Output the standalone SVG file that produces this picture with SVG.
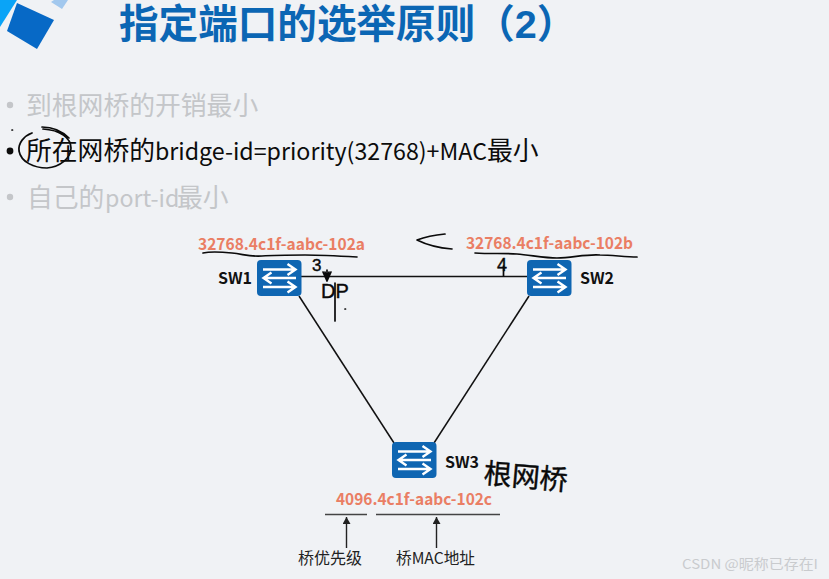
<svg xmlns="http://www.w3.org/2000/svg" width="829" height="579" viewBox="0 0 829 579">
<style>
text{font-family:"Noto Sans CJK SC","Noto Sans",sans-serif}
.title{font-family:"Liberation Sans","Noto Sans CJK SC",sans-serif;font-size:39.6px;font-weight:700;fill:#0b66b4}
.bul{font-size:25.8px}
.lat{font-size:23.2px}
.dim{fill:#c4c6c9}
.on{fill:#0c0c0c}
.addr{font-size:16px;font-weight:700;fill:#ea7e64}
.sw{font-size:16px;font-weight:700;fill:#111}
.cap{font-size:16px;fill:#222}
.link{stroke:#111;stroke-width:1.5;fill:none}
.ink{stroke:#0a0a0a;stroke-width:1.7;fill:none;stroke-linecap:round;stroke-linejoin:round}
.hw{font-family:"Liberation Sans","Noto Sans CJK SC",sans-serif;fill:#0a0a0a;stroke:#0a0a0a;stroke-width:.4}
.rule{stroke:#444;stroke-width:1.5;fill:none}
.ptr{stroke:#222;stroke-width:1.4;fill:none;marker-end:url(#tip)}
.ar{stroke:#fff;stroke-width:2.4;fill:none}
</style>
<defs>
<marker id="tip" markerUnits="userSpaceOnUse" markerWidth="8" markerHeight="8" refX="7" refY="4" orient="auto"><path d="M0 0L7 4L0 8Z" fill="#222"/></marker>
<symbol id="switch" width="45" height="36" viewBox="0 0 45 36" overflow="visible">
<rect width="44.5" height="36" rx="4" fill="#0f66b2"/>
<path class="ar" d="M6 9.5H38M30.5 4L38.5 9.5L30.5 15"/>
<path class="ar" d="M39 18H7M14.5 12.5L6.5 18L14.5 23.5"/>
<path class="ar" d="M6 27H38M30.5 21.5L38.5 27L30.5 32.5"/>
</symbol>
</defs>
<rect width="829" height="579" fill="#f0f2f5"/>
<path d="M0 0H17L0 27Z" fill="#0aa4f7"/>
<path d="M17 3L54 20L37 49L7 31Z" fill="#0769c6"/>
<path d="M51 2L54 0H68L62 9Z" fill="#a2c8ee"/>
<text class="title" x="119" y="37.5">指定端口的选举原则（2）</text>
<circle cx="10" cy="105" r="3.2" fill="#c4c6c9"/>
<text class="bul dim" x="26" y="115">到根网桥的开销最小</text>
<circle cx="10" cy="151" r="3.4" fill="#0c0c0c"/>
<text class="bul on" x="26" y="160">所在网桥的<tspan class="lat" x="155">bridge-id=priority(32768)+MAC</tspan><tspan x="487">最小</tspan></text>
<circle cx="10" cy="197" r="3.2" fill="#c4c6c9"/>
<text class="bul dim" x="27" y="207">自己的<tspan class="lat" x="105">port-id</tspan><tspan x="177">最小</tspan></text>
<g id="connectors">
<path class="link" d="M301 276.5H527"/>
<path class="link" d="M299 296L394 443"/>
<path class="link" d="M529 296L434 443"/>
<path class="rule" d="M325 514.5H367M376 514.5H500"/>
<path class="ptr" d="M346.5 548V517"/>
<path class="ptr" d="M436.5 548V517"/>
</g>
<g id="sw1"><use href="#switch" x="257" y="260"/><text class="sw" x="218" y="284">SW1</text></g>
<g id="sw2"><use href="#switch" x="527" y="260"/><text class="sw" x="580" y="284">SW2</text></g>
<g id="sw3"><use href="#switch" x="392" y="442"/><text class="sw" x="445" y="468">SW3</text></g>
<text class="addr" x="198" y="250" textLength="167" lengthAdjust="spacingAndGlyphs">32768.4c1f-aabc-102a</text>
<text class="addr" x="466" y="249" textLength="167" lengthAdjust="spacingAndGlyphs">32768.4c1f-aabc-102b</text>
<text class="addr" x="336" y="505" textLength="156" lengthAdjust="spacingAndGlyphs">4096.4c1f-aabc-102c</text>
<text class="cap" x="298" y="564">桥优先级</text>
<text class="cap" x="396" y="564" textLength="79" lengthAdjust="spacingAndGlyphs">桥MAC地址</text>
<g id="annotations">
<path class="ink" d="M32 133C24 136 18 143 19 151C21 162 34 168 47 168C60 167 71 158 71 148C71 138 60 130 43 129M42 127C52 127 62 131 69 138"/>
<path class="ink" d="M203 253C212 251 222 252 232 253C243 254 250 257 262 256C275 255 290 255 305 255C322 255 340 256 357 257"/>
<path class="ink" d="M475 253C490 254 505 253 517 254C530 255 545 258 557 258C572 258 585 254 600 255C612 255 625 257 637 257"/>
<path class="ink" d="M445 234C435 235 425 237 417 240C427 245 440 248 452 249"/>
<path class="ink" d="M323 272L327 281L331 272M327 270V281M325 272L327 281L329 272M335 283V321"/>
<path class="ink" d="M12 130h.5M345 309h.5" stroke-width="2"/>
<path class="ink" d="M503.5 266V276"/>
<text class="hw" x="312" y="270.5" font-size="17">3</text>
<text class="hw" x="497" y="271" font-size="18">4</text>
<text class="hw" x="321" y="298" font-size="20">DP</text>
<text class="hw" x="483" y="483" font-size="28" transform="rotate(5 483 483)">根网桥</text>
</g>
<text x="682" y="569" font-size="13.5" fill="#c9cbce" textLength="136" lengthAdjust="spacingAndGlyphs">CSDN @昵称已存在I</text>
</svg>
